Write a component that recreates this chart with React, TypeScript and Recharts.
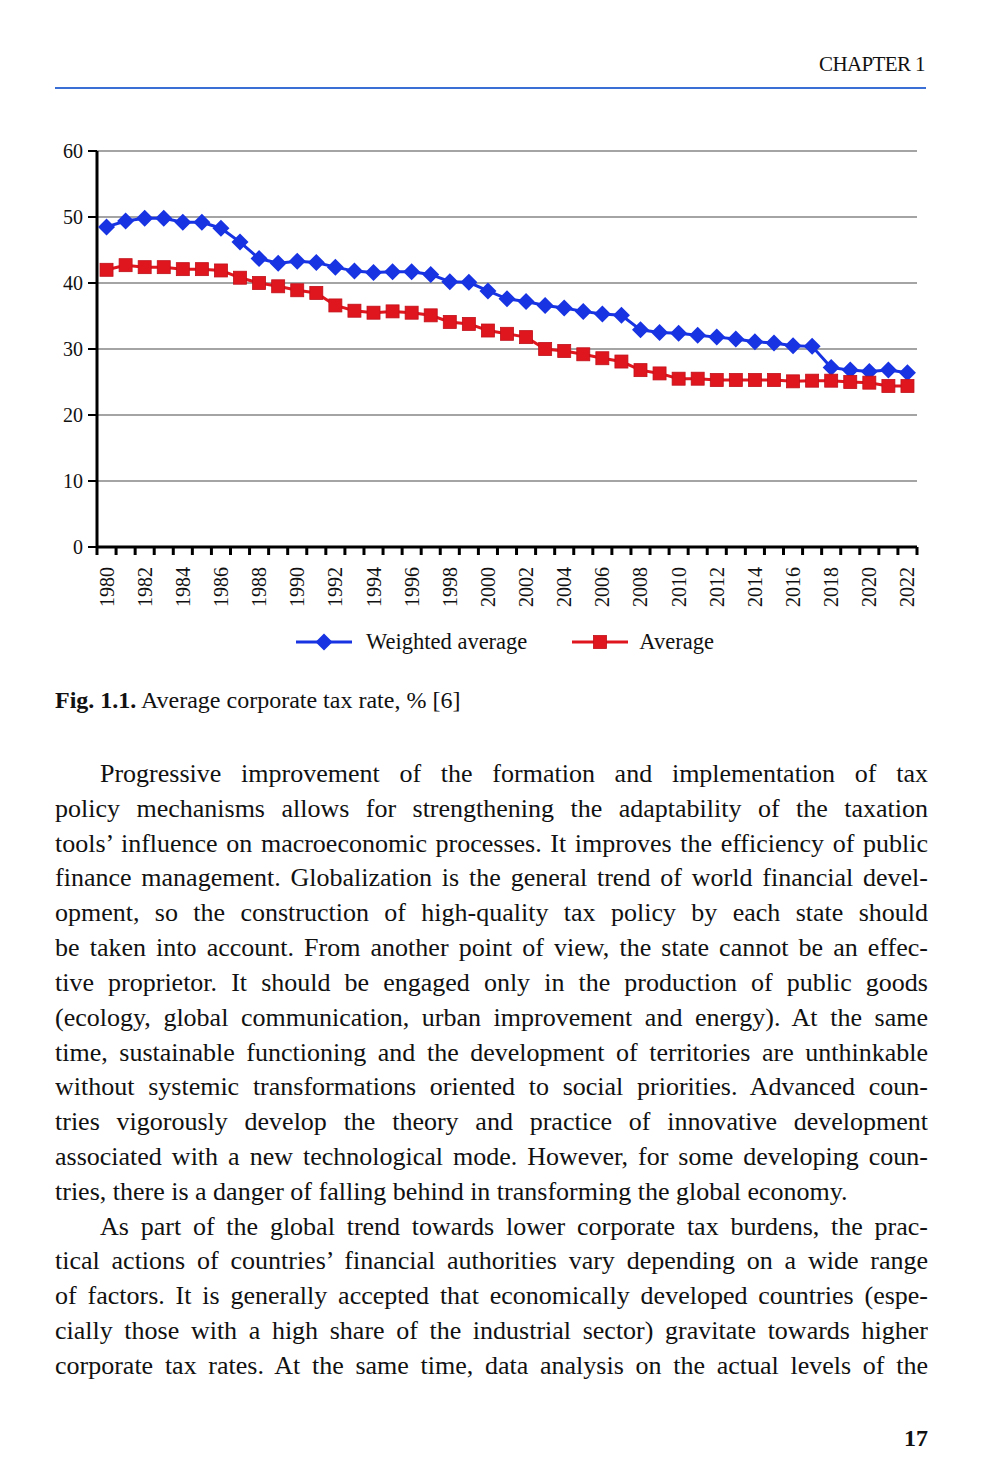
import React from 'react';
import { LineChart, Line, XAxis, YAxis, CartesianGrid, Legend } from 'recharts';

// Average corporate tax rate, %
const years = [
  1980, 1981, 1982, 1983, 1984, 1985, 1986, 1987, 1988, 1989, 1990,
  1991, 1992, 1993, 1994, 1995, 1996, 1997, 1998, 1999, 2000, 2001,
  2002, 2003, 2004, 2005, 2006, 2007, 2008, 2009, 2010, 2011, 2012,
  2013, 2014, 2015, 2016, 2017, 2018, 2019, 2020, 2021, 2022,
];

const weightedAverage = [
  48.5, 49.4, 49.8, 49.8, 49.2, 49.2, 48.3, 46.2, 43.7, 43.0, 43.3,
  43.1, 42.4, 41.8, 41.6, 41.7, 41.7, 41.3, 40.2, 40.1, 38.8, 37.6,
  37.2, 36.6, 36.2, 35.7, 35.3, 35.1, 32.9, 32.5, 32.4, 32.1, 31.8,
  31.5, 31.1, 30.9, 30.5, 30.4, 27.2, 26.8, 26.6, 26.8, 26.4,
];

const average = [
  42.0, 42.7, 42.4, 42.4, 42.1, 42.1, 41.9, 40.8, 40.0, 39.5, 38.9,
  38.5, 36.6, 35.8, 35.5, 35.7, 35.5, 35.1, 34.1, 33.8, 32.8, 32.3,
  31.8, 30.0, 29.7, 29.2, 28.6, 28.1, 26.8, 26.3, 25.5, 25.5, 25.3,
  25.3, 25.3, 25.3, 25.1, 25.2, 25.2, 25.0, 24.9, 24.4, 24.4,
];

const yearLabels = [
  1980, 1982, 1984, 1986, 1988, 1990, 1992, 1994, 1996, 1998, 2000,
  2002, 2004, 2006, 2008, 2010, 2012, 2014, 2016, 2018, 2020, 2022,
];

const yTicks = [0, 10, 20, 30, 40, 50, 60];

const data = years.map((year, i) => ({
  year,
  weighted: weightedAverage[i],
  average: average[i],
}));

// tick marks sit on the boundaries between years, like the Excel original
const boundaryTicks = [...years.map((y) => y - 0.5), years[years.length - 1] + 0.5];
const xDomain = [boundaryTicks[0], boundaryTicks[boundaryTicks.length - 1]];

const BLUE = '#1733e2';
const RED = '#e0161e';
const SERIF = '"Liberation Serif", "Times New Roman", serif';

const Diamond = ({ cx, cy, fill, r = 8.5 }: any) => (
  <polygon
    points={`${cx},${cy - r} ${cx + r},${cy} ${cx},${cy + r} ${cx - r},${cy}`}
    fill={fill}
  />
);

const Square = ({ cx, cy, fill, r = 6.5 }: any) => (
  <rect x={cx - r} y={cy - r} width={r * 2} height={r * 2} fill={fill} stroke="#c0101a" strokeWidth={0.8} />
);

const YearTick = ({ x, y, payload }: any) => (
  <text
    x={x}
    y={y}
    transform={`rotate(-90 ${x} ${y})`}
    textAnchor="end"
    dominantBaseline="central"
    fontSize={20}
    fontFamily={SERIF}
    fill="#111"
  >
    {payload.value}
  </text>
);

const NoLabel = () => <g />;

const LegendContent = () => (
  <div
    style={{
      display: 'flex',
      justifyContent: 'center',
      alignItems: 'center',
      paddingLeft: 56,
      fontFamily: SERIF,
      fontSize: 22.5,
      color: '#111',
      height: 50,
    }}
  >
    <svg width={56} height={20} style={{ marginRight: 14 }}>
      <line x1={0} y1={10} x2={56} y2={10} stroke={BLUE} strokeWidth={3} />
      <Diamond cx={28} cy={10} fill={BLUE} />
    </svg>
    <span style={{ marginRight: 45 }}>Weighted average</span>
    <svg width={56} height={20} style={{ marginRight: 11 }}>
      <line x1={0} y1={10} x2={56} y2={10} stroke={RED} strokeWidth={3} />
      <Square cx={28} cy={10} fill={RED} />
    </svg>
    <span>Average</span>
  </div>
);

const bodyLines1 = [
  'Progressive improvement of the formation and implementation of tax',
  'policy mechanisms allows for strengthening the adaptability of the taxation',
  'tools\u2019 influence on macroeconomic processes. It improves the efficiency of public',
  'finance management. Globalization is the general trend of world financial devel-',
  'opment, so the construction of high-quality tax policy by each state should',
  'be taken into account. From another point of view, the state cannot be an effec-',
  'tive proprietor. It should be engaged only in the production of public goods',
  '(ecology, global communication, urban improvement and energy). At the same',
  'time, sustainable functioning and the development of territories are unthinkable',
  'without systemic transformations oriented to social priorities. Advanced coun-',
  'tries vigorously develop the theory and practice of innovative development',
  'associated with a new technological mode. However, for some developing coun-',
  'tries, there is a danger of falling behind in transforming the global economy.',
];

const bodyLines2 = [
  'As part of the global trend towards lower corporate tax burdens, the prac-',
  'tical actions of countries\u2019 financial authorities vary depending on a wide range',
  'of factors. It is generally accepted that economically developed countries (espe-',
  'cially those with a high share of the industrial sector) gravitate towards higher',
  'corporate tax rates. At the same time, data analysis on the actual levels of the',
];

const TextLine = ({ text, indent, last }: { text: string; indent?: boolean; last?: boolean }) => (
  <div
    style={{
      height: 34.82,
      lineHeight: '34.82px',
      textAlign: 'justify',
      textAlignLast: last ? 'left' : 'justify',
      paddingLeft: indent ? 45 : 0,
      overflow: 'hidden',
    }}
  >
    {text}
  </div>
);

export default function App() {
  return (
    <div
      style={{
        position: 'absolute',
        left: 0,
        top: 0,
        width: 1000,
        height: 1480,
        background: '#fff',
        fontFamily: SERIF,
        color: '#111',
      }}
    >
      <div
        style={{
          position: 'absolute',
          right: 75,
          top: 50,
          fontSize: 21,
          letterSpacing: -0.6,
          lineHeight: '28px',
        }}
      >
        CHAPTER 1
      </div>
      <div
        style={{
          position: 'absolute',
          left: 55,
          top: 87,
          width: 871,
          height: 2,
          background: '#3a6fd6',
        }}
      />

      <div style={{ position: 'absolute', left: 0, top: 120 }}>
        <LineChart
          width={960}
          height={547}
          data={data}
          margin={{ top: 31, right: 43, left: 37, bottom: 0 }}
        >
          <CartesianGrid vertical={false} stroke="#4a4a4a" strokeWidth={1.1} />
          <XAxis
            dataKey="year"
            type="number"
            domain={xDomain}
            ticks={boundaryTicks}
            interval={0}
            height={10}
            tick={NoLabel}
            tickSize={8}
            axisLine={{ stroke: '#000', strokeWidth: 3 }}
            tickLine={{ stroke: '#000', strokeWidth: 3 }}
            allowDataOverflow
          />
          <XAxis
            xAxisId="labels"
            dataKey="year"
            type="number"
            domain={xDomain}
            ticks={yearLabels}
            interval={0}
            height={60}
            tick={YearTick}
            tickSize={0}
            tickMargin={10}
            axisLine={false}
            tickLine={false}
            allowDataOverflow
          />
          <YAxis
            width={60}
            domain={[0, 60]}
            ticks={yTicks}
            interval={0}
            tickSize={9}
            tickMargin={5}
            axisLine={{ stroke: '#000', strokeWidth: 3 }}
            tickLine={{ stroke: '#000', strokeWidth: 2 }}
            tick={{ fontSize: 20, fontFamily: SERIF, fill: '#111' }}
          />
          <Legend verticalAlign="bottom" height={50} content={LegendContent} />
          <Line
            dataKey="weighted"
            name="Weighted average"
            stroke={BLUE}
            strokeWidth={3}
            dot={(p: any) => <Diamond key={`w${p.index}`} cx={p.cx} cy={p.cy} fill={BLUE} />}
            isAnimationActive={false}
          />
          <Line
            dataKey="average"
            name="Average"
            stroke={RED}
            strokeWidth={3}
            dot={(p: any) => <Square key={`a${p.index}`} cx={p.cx} cy={p.cy} fill={RED} />}
            isAnimationActive={false}
          />
        </LineChart>
      </div>

      <div style={{ position: 'absolute', left: 55, top: 685, fontSize: 24, lineHeight: '30px' }}>
        <b>Fig. 1.1.</b> Average corporate tax rate, % [6]
      </div>

      <div style={{ position: 'absolute', left: 55, top: 757, width: 873, fontSize: 26 }}>
        {bodyLines1.map((t, i) => (
          <TextLine key={`p1-${i}`} text={t} indent={i === 0} last={i === bodyLines1.length - 1} />
        ))}
        {bodyLines2.map((t, i) => (
          <TextLine key={`p2-${i}`} text={t} indent={i === 0} />
        ))}
      </div>

      <div
        style={{
          position: 'absolute',
          right: 72,
          top: 1424,
          fontSize: 24,
          fontWeight: 'bold',
          lineHeight: '28px',
        }}
      >
        17
      </div>
    </div>
  );
}
